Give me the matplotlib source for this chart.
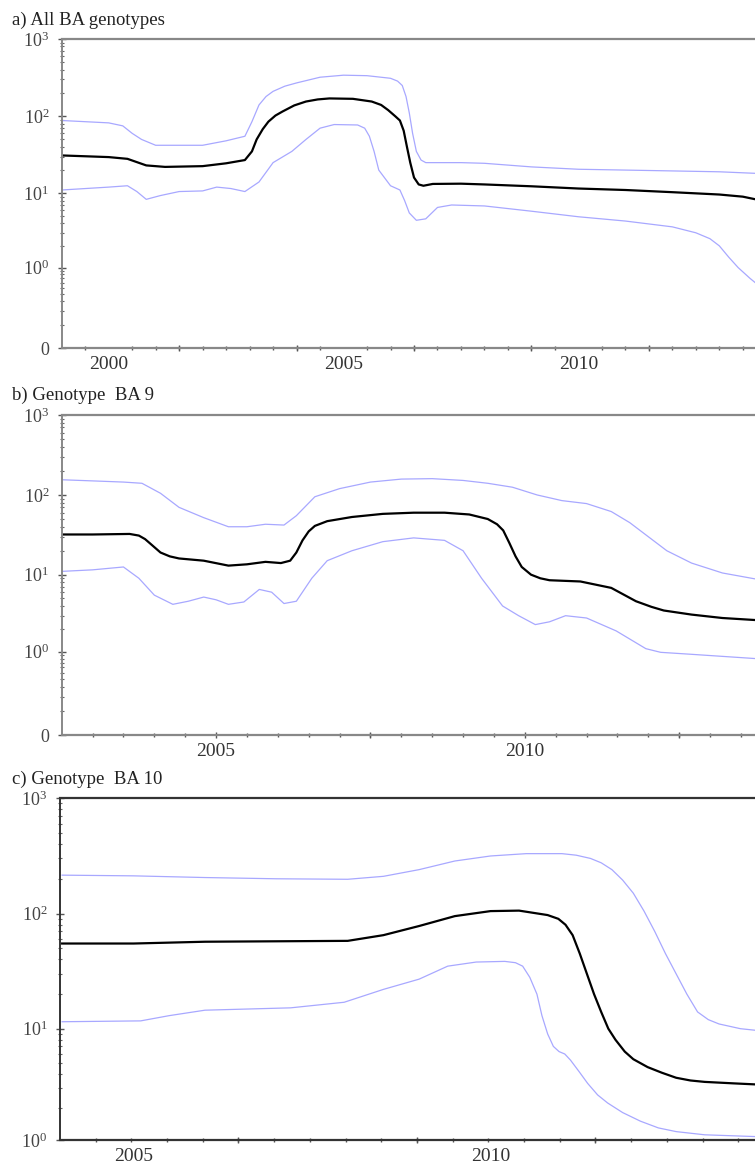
import numpy as np
import matplotlib.pyplot as plt

plt.rcParams['font.family'] = ['Liberation Serif', 'DejaVu Serif']
plt.rcParams['mathtext.fontset'] = 'custom'
plt.rcParams['mathtext.rm'] = 'Liberation Serif'
plt.rcParams['mathtext.it'] = 'Liberation Serif:italic'

# --------------------------------------------------
# Data
# --------------------------------------------------
titles = ["a) All BA genotypes", "b) Genotype  BA 9", "c) Genotype  BA 10"]

# a) All BA genotypes
a_med_x = [1999.0, 2000.0, 2000.4, 2000.8, 2001.2, 2002.0, 2002.5, 2002.9, 2003.05, 2003.15, 2003.28,
           2003.4, 2003.55, 2003.7, 2003.95, 2004.2, 2004.45, 2004.7, 2005.2, 2005.6, 2005.8, 2005.95,
           2006.1, 2006.2, 2006.28, 2006.35, 2006.42, 2006.5, 2006.6, 2006.7, 2006.9, 2007.5,
           2008.0, 2009.0, 2010.0, 2011.0, 2012.0, 2013.0, 2013.5, 2013.9]
a_med_y = [31, 29.5, 28, 23, 22, 22.5, 24.5, 27, 35, 50, 68,
           85, 102, 115, 138, 155, 165, 170, 168, 155, 140, 120,
           100, 88, 65, 40, 25, 16, 13, 12.5, 13.2, 13.3,
           13, 12.3, 11.5, 11, 10.3, 9.6, 9, 8]
a_up_x = [1999.0, 2000.0, 2000.3, 2000.5, 2000.7, 2001.0, 2002.0, 2002.5, 2002.9, 2003.05, 2003.2,
          2003.35, 2003.5, 2003.75, 2004.0, 2004.5, 2005.0, 2005.5, 2006.0, 2006.15, 2006.25, 2006.33,
          2006.4, 2006.47, 2006.55, 2006.65, 2006.75, 2007.5, 2008.0, 2009.0,
          2010.0, 2011.0, 2012.0, 2013.0, 2013.9]
a_up_y = [88, 82, 75, 60, 50, 42, 42, 48, 55, 85, 140,
          180, 210, 245, 270, 320, 340, 335, 310, 285, 250, 180,
          110, 60, 35, 27, 25, 25, 24.5, 22,
          20.5, 20, 19.5, 19, 18]
a_lo_x = [1999.0, 2000.0, 2000.4, 2000.6, 2000.8, 2001.1, 2001.5, 2002.0, 2002.3, 2002.6, 2002.9, 2003.2,
          2003.5, 2003.9, 2004.2, 2004.5, 2004.8, 2005.3, 2005.45, 2005.55, 2005.65, 2005.75, 2006.0, 2006.2,
          2006.3, 2006.4, 2006.55, 2006.75, 2007.0, 2007.3, 2008.0, 2009.0, 2010.0, 2011.0, 2012.0, 2012.5,
          2012.8, 2013.0, 2013.2, 2013.4, 2013.65, 2013.9]
a_lo_y = [11, 12, 12.5, 10.5, 8.3, 9.3, 10.5, 10.7, 12, 11.5, 10.5, 14,
          25, 35, 50, 70, 78, 77, 70, 55, 35, 20, 12.5, 11,
          8, 5.5, 4.4, 4.6, 6.5, 7, 6.8, 5.8, 4.9, 4.3, 3.6, 3.0,
          2.5, 2.0, 1.4, 1.0, 0.7, 0.5]

# b) Genotype BA 9
b_med_x = [2002.5, 2003.0, 2003.6, 2003.75, 2003.85, 2003.95, 2004.1, 2004.25, 2004.4, 2004.8, 2005.2,
           2005.5, 2005.8, 2006.05, 2006.2, 2006.3, 2006.4, 2006.5, 2006.6, 2006.8, 2007.2, 2007.7,
           2008.2, 2008.7, 2009.1, 2009.4, 2009.55, 2009.65, 2009.75, 2009.85, 2009.95, 2010.1, 2010.25,
           2010.4, 2010.9, 2011.4, 2011.8, 2012.05, 2012.25, 2012.7, 2013.2, 2013.85]
b_med_y = [32, 32, 32.5, 31, 28, 24, 19, 17, 16, 15, 13,
           13.5, 14.5, 14, 15, 19, 27, 35, 41, 47, 53, 58,
           60, 60, 57, 50, 43, 36, 25, 17, 12.5, 10, 9,
           8.5, 8.2, 6.8, 4.6, 3.9, 3.5, 3.1, 2.8, 2.6]
b_up_x = [2002.5, 2003.0, 2003.5, 2003.8, 2004.1, 2004.4, 2004.8, 2005.2, 2005.5, 2005.8, 2006.1,
          2006.3, 2006.6, 2007.0, 2007.5, 2008.0, 2008.5, 2009.0, 2009.4, 2009.8, 2010.2, 2010.6,
          2011.0, 2011.4, 2011.7, 2012.0, 2012.3, 2012.7, 2013.2, 2013.85]
b_up_y = [155, 150, 145, 140, 105, 70, 52, 40, 40, 43, 42,
          55, 95, 120, 145, 158, 160, 152, 140, 125, 100, 85,
          78, 62, 45, 30, 20, 14, 10.5, 8.5]
b_lo_x = [2002.5, 2003.0, 2003.5, 2003.75, 2004.0, 2004.3, 2004.55, 2004.8, 2005.0, 2005.2, 2005.45,
          2005.7, 2005.9, 2006.1, 2006.3, 2006.55, 2006.8, 2007.2, 2007.7, 2008.2, 2008.7, 2009.0,
          2009.3, 2009.64, 2009.9, 2010.17, 2010.4, 2010.66, 2011.0, 2011.48, 2011.96, 2012.2, 2012.7,
          2013.3, 2013.85]
b_lo_y = [11, 11.5, 12.5, 9, 5.5, 4.2, 4.6, 5.2, 4.8, 4.2, 4.5,
          6.5, 6, 4.3, 4.6, 9, 15, 20, 26, 29, 27, 20,
          9, 4.0, 3.0, 2.3, 2.5, 3.0, 2.8, 1.9, 1.1, 0.98, 0.92,
          0.85, 0.79]

# c) Genotype BA 10
c_med_x = [2004.0, 2005.0, 2006.0, 2007.0, 2008.0, 2008.5, 2009.0, 2009.5, 2010.0, 2010.4, 2010.8,
           2010.95, 2011.05, 2011.15, 2011.25, 2011.35, 2011.45, 2011.55, 2011.65, 2011.75, 2011.88,
           2012.0, 2012.2, 2012.4, 2012.6, 2012.8, 2013.0, 2013.4, 2013.84]
c_med_y = [55, 55, 57, 57.5, 58, 65, 78, 95, 105, 106, 97,
           90, 80, 65, 45, 30, 20, 14, 10, 8, 6.3,
           5.4, 4.6, 4.1, 3.7, 3.5, 3.4, 3.3, 3.2]
c_up_x = [2004.0, 2005.0, 2006.0, 2007.0, 2008.0, 2008.5, 2009.0, 2009.5, 2010.0, 2010.5, 2011.0,
          2011.2, 2011.4, 2011.55, 2011.7, 2011.85, 2012.0, 2012.15, 2012.3, 2012.45, 2012.6,
          2012.75, 2012.9, 2013.05, 2013.2, 2013.5, 2013.84]
c_up_y = [215, 212, 205, 200, 198, 210, 240, 285, 315, 330, 330,
          320, 300, 275, 240, 195, 150, 105, 70, 45, 30,
          20, 14, 12, 11, 10, 9.5]
c_lo_x = [2004.0, 2005.1, 2005.5, 2006.0, 2007.2, 2007.95, 2008.5, 2009.0, 2009.4, 2009.8, 2010.2,
          2010.35, 2010.45, 2010.55, 2010.65, 2010.72, 2010.8, 2010.88, 2010.96, 2011.04, 2011.12,
          2011.24, 2011.36, 2011.5, 2011.64, 2011.85, 2012.1, 2012.35, 2012.6, 2013.0, 2013.84]
c_lo_y = [11.5, 11.7, 13, 14.5, 15.2, 17, 22, 27, 35, 38, 38.5,
          37.5, 35, 28, 20, 13, 9, 7, 6.3, 6.0, 5.3,
          4.2, 3.3, 2.6, 2.2, 1.8, 1.5, 1.3, 1.2, 1.12, 1.07]

year_labels = [[2000, 2005, 2010], [2005, 2010], [2005, 2010]]
x_limits = [(1999.0, 2013.92), (2002.5, 2013.85), (2003.97, 2013.81)]
y_limits = [(0, 1000), (0, 1000), (1, 1000)]

# --------------------------------------------------
# Layout
# --------------------------------------------------
W, H = 755, 1171
fig = plt.figure(figsize=(W / 100, H / 100), dpi=100)

# axes boxes in pixels: left, top, bottom
boxes = [(61.7, 39, 348), (61.7, 415, 735), (60, 798, 1140)]
title_y = [20, 395, 779]

C = 0.1
fwd = lambda y: np.log10(np.clip(y, 0, None) + C)
inv = lambda v: 10 ** v - C

series = [
    (a_med_x, a_med_y, a_up_x, a_up_y, a_lo_x, a_lo_y),
    (b_med_x, b_med_y, b_up_x, b_up_y, b_lo_x, b_lo_y),
    (c_med_x, c_med_y, c_up_x, c_up_y, c_lo_x, c_lo_y),
]

minor_y = [k * 0.1 for k in range(1, 10)] + [k * 10 ** d for d in range(3) for k in range(2, 10)]
blue = '#a8a8ff'

for i, (left, top, bottom) in enumerate(boxes):
    ax = fig.add_axes([left / W, 1 - bottom / H, (W - left) / W + 0.01, (bottom - top) / H])
    mx, my, ux, uy, lx, ly = series[i]
    ax.plot(ux, uy, color=blue, lw=0.9, solid_joinstyle='round')
    ax.plot(lx, ly, color=blue, lw=0.9, solid_joinstyle='round')
    ax.plot(mx, my, color='black', lw=1.6, solid_joinstyle='round')

    ax.set_yscale('function', functions=(fwd, inv))
    ax.set_ylim(*y_limits[i])
    ax.set_xlim(*x_limits[i])

    if i < 2:
        yt = [0, 1, 10, 100, 1000]
        yl = ['0', '$10^0$', '$10^1$', '$10^2$', '$10^3$']
    else:
        yt = [1, 10, 100, 1000]
        yl = ['$10^0$', '$10^1$', '$10^2$', '$10^3$']
    ax.set_yticks(yt, yl)
    ax.set_yticks([v for v in minor_y if v > y_limits[i][0]], minor=True)

    # year labels (no tick mark) and half-year ticks counted from the left edge
    ax.set_xticks(year_labels[i], [str(y) for y in year_labels[i]])
    x0 = x_limits[i][0]
    ax.set_xticks(np.arange(x0 + 0.5, x_limits[i][1], 0.5), minor=True)
    big = np.arange(x0 + 2.5, x_limits[i][1], 2.5)
    sec = ax.secondary_xaxis('bottom')
    sec.set_xticks(big, ['' for _ in big])
    sec.tick_params(direction='inout', length=5, width=1.0, color='#555555')
    sec.spines['bottom'].set_visible(False)

    spine_col = '#888888' if i < 2 else '#333333'
    for s in ['top', 'bottom', 'left']:
        ax.spines[s].set_color(spine_col)
        ax.spines[s].set_linewidth(1.6 if s != 'left' else 1.4)
    ax.spines['right'].set_visible(False)

    ax.tick_params(axis='x', which='major', length=0, pad=6, labelsize=14, labelcolor='#333333')
    ax.tick_params(axis='x', which='minor', direction='inout', length=3, width=1.0, color='#555555')
    ax.tick_params(axis='y', which='major', direction='inout', length=6, width=1.0, color='#555555',
                   pad=6, labelsize=13, labelcolor='#444444')
    ax.tick_params(axis='y', which='minor', direction='inout', length=3, width=0.8, color='#666666')

    fig.text(12 / W, 1 - title_y[i] / H, titles[i], fontsize=13.5, va='center', ha='left', color='#222222')

fig.savefig('out.png', dpi=100)
